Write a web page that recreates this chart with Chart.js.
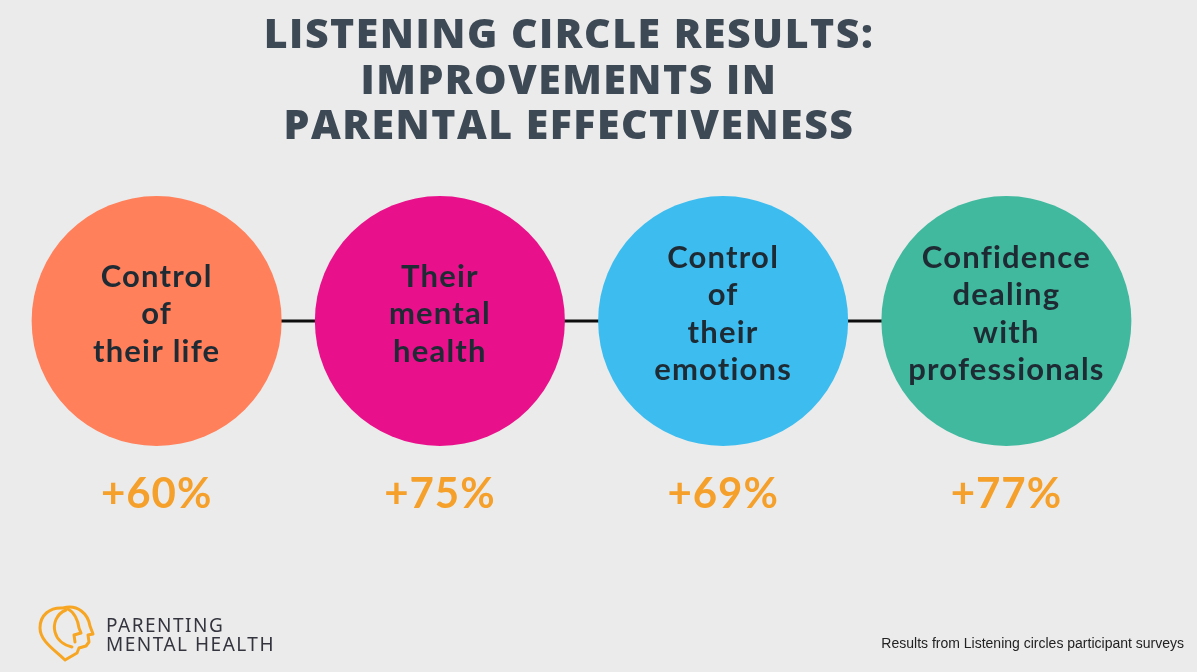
<!DOCTYPE html>
<html>
<head>
<meta charset="utf-8">
<script src="https://cdn.jsdelivr.net/npm/chart.js@4.4.1/dist/chart.umd.min.js"></script>
<style>
  html, body { margin: 0; padding: 0; background: #ebebeb; }
  canvas { display: block; }
</style>
</head>
<body>
<canvas id="chart" width="1197" height="672"></canvas>
<script>
// data
const categories = [
  ['Control', 'of', 'their life'],
  ['Their', 'mental', 'health'],
  ['Control', 'of', 'their', 'emotions'],
  ['Confidence', 'dealing', 'with', 'professionals']
];
const improvements = [60, 75, 69, 77];
const circleColors = ['#ff805a', '#e9118b', '#3dbdef', '#41b99f'];
const titleLines = ['LISTENING CIRCLE RESULTS:', 'IMPROVEMENTS IN', 'PARENTAL EFFECTIVENESS'];
const logoLines = ['PARENTING', 'MENTAL HEALTH'];
const footnote = 'Results from Listening circles participant surveys';

const bgPlugin = {
  id: 'bg',
  beforeDraw(chart) {
    const c = chart.ctx;
    c.save();
    c.fillStyle = '#ebebeb';
    c.fillRect(0, 0, chart.width, chart.height);
    c.restore();
  }
};

// text inside circles and the percentages below them
const labelPlugin = {
  id: 'labels',
  afterDatasetsDraw(chart) {
    const c = chart.ctx;
    const meta = chart.getDatasetMeta(0);
    c.save();
    c.textAlign = 'center';
    c.textBaseline = 'middle';
    meta.data.forEach((pt, i) => {
      const lines = categories[i];
      const lh = 37.5;
      const top = pt.y - 7 - (lines.length - 1) * lh / 2;
      c.fillStyle = '#1f2b34';
      c.font = 'bold 31px Lato';
      c.letterSpacing = '1.2px';
      lines.forEach((s, j) => c.fillText(s, pt.x, top + j * lh));
      c.fillStyle = '#f5a02b';
      c.font = 'bold 42px Lato';
      c.letterSpacing = '1px';
      c.fillText('+' + improvements[i] + '%', pt.x, pt.y + 173);
    });
    c.restore();
  }
};

const decorPlugin = {
  id: 'decor',
  afterDraw(chart) {
    const c = chart.ctx;
    c.save();
    // title
    c.fillStyle = '#3d4955';
    c.textAlign = 'center';
    c.textBaseline = 'alphabetic';
    c.font = '800 41px "Open Sans"';
    c.letterSpacing = '1.5px';
    titleLines.forEach((s, i) => c.fillText(s, 569, 48 + i * 45.5));
    c.letterSpacing = '0px';

    // logo icon
    c.strokeStyle = '#f7a623';
    c.lineWidth = 3;
    c.lineJoin = 'round';
    c.lineCap = 'round';
    c.beginPath();
    c.moveTo(65, 660);
    c.bezierCurveTo(52, 648, 40, 640, 40, 628);
    c.bezierCurveTo(40, 615, 50, 607, 63, 608);
    c.bezierCurveTo(78, 604, 88, 614, 90, 626);
    c.lineTo(93, 634);
    c.lineTo(88, 635);
    c.lineTo(89, 642);
    c.lineTo(86, 646);
    c.lineTo(79, 648);
    c.lineTo(77, 653);
    c.lineTo(65, 660);
    c.stroke();
    c.beginPath();
    c.moveTo(66, 610);
    c.bezierCurveTo(56, 614, 53, 624, 55, 632);
    c.bezierCurveTo(57, 640, 64, 645, 72, 647);
    c.stroke();
    c.beginPath();
    c.moveTo(68, 609);
    c.bezierCurveTo(74, 612, 78, 620, 79, 628);
    c.lineTo(81, 633);
    c.lineTo(74, 635);
    c.lineTo(75, 642);
    c.stroke();

    // logo text
    c.fillStyle = '#34343f';
    c.textAlign = 'left';
    c.font = '19px "Noto Sans"';
    c.letterSpacing = '1.5px';
    c.fillText(logoLines[0], 106, 632);
    c.fillText(logoLines[1], 106, 651);
    c.letterSpacing = '0px';

    // footnote
    c.fillStyle = '#222';
    c.textAlign = 'right';
    c.font = '14px "Liberation Sans"';
    c.fillText(footnote, 1184, 648);
    c.restore();
  }
};

const ctx = document.getElementById('chart').getContext('2d');
new Chart(ctx, {
  type: 'scatter',
  data: {
    datasets: [{
      type: 'scatter',
      data: improvements.map((v, i) => ({ x: i, y: 0.5 })),
      backgroundColor: circleColors,
      pointRadius: 125,
      pointHoverRadius: 125,
      borderWidth: 0,
      clip: false
    }, {
      type: 'line',
      data: categories.map((c, i) => ({ x: i, y: 0.5 })),
      borderColor: '#0d0d0d',
      borderWidth: 3,
      pointRadius: 0,
      fill: false,
      clip: false
    }]
  },
  options: {
    responsive: false,
    animation: false,
    events: [],
    layout: {
      autoPadding: false,
      padding: { left: 15, right: 49, top: 191, bottom: 221 }
    },
    scales: {
      x: { type: 'linear', min: -0.5, max: 3.5, display: false },
      y: { min: 0, max: 1, display: false }
    },
    plugins: {
      legend: { display: false },
      tooltip: { enabled: false }
    }
  },
  plugins: [bgPlugin, labelPlugin, decorPlugin]
});
</script>
</body>
</html>
